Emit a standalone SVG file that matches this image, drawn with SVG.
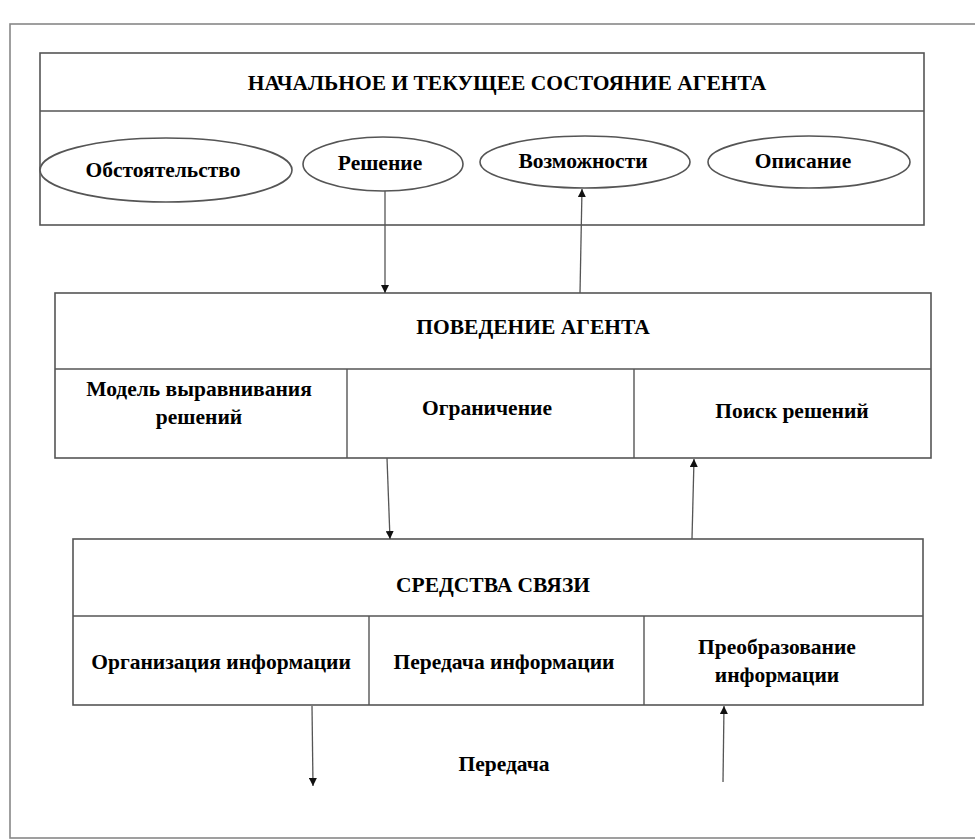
<svg xmlns="http://www.w3.org/2000/svg" width="975" height="839" viewBox="0 0 975 839">
<style>
.box{fill:#fff;stroke:#555;stroke-width:1.6}
.line{fill:none;stroke:#555;stroke-width:1.4}
.ell{fill:#fff;stroke:#555;stroke-width:1.6}
.conn{fill:none;stroke:#555;stroke-width:1.3}
.t{font-family:'Liberation Serif','Times New Roman','DejaVu Serif',serif;font-weight:bold;font-size:21.5px;fill:#000;text-anchor:middle}
</style>
<defs>
<marker id="arr" viewBox="0 0 10 10" refX="10" refY="5" markerWidth="8" markerHeight="8" markerUnits="userSpaceOnUse" orient="auto">
<path d="M0,0 L10,5 L0,10 Z" fill="#111"/>
</marker>
</defs>
<rect x="10" y="24" width="970" height="814" fill="none" stroke="#888" stroke-width="1.6"/>

<g id="state">
<rect class="box" x="40" y="53" width="884" height="172"/>
<line class="line" x1="40" y1="111" x2="924" y2="111"/>
<text class="t" x="507" y="90">НАЧАЛЬНОЕ И ТЕКУЩЕЕ СОСТОЯНИЕ АГЕНТА</text>
</g>
<g id="obstoyatelstvo">
<ellipse class="ell" cx="166" cy="170" rx="126" ry="32"/>
<text class="t" x="163" y="177">Обстоятельство</text>
</g>
<g id="reshenie">
<ellipse class="ell" cx="383" cy="164" rx="80" ry="27"/>
<text class="t" x="380" y="170">Решение</text>
</g>
<g id="vozmozhnosti">
<ellipse class="ell" cx="585" cy="162" rx="105" ry="26"/>
<text class="t" x="583" y="168">Возможности</text>
</g>
<g id="opisanie">
<ellipse class="ell" cx="809" cy="162" rx="101" ry="26"/>
<text class="t" x="803" y="168">Описание</text>
</g>

<g id="behavior">
<rect class="box" x="55" y="293" width="876" height="165"/>
<line class="line" x1="55" y1="369" x2="931" y2="369"/>
<line class="line" x1="347" y1="369" x2="347" y2="458"/>
<line class="line" x1="634" y1="369" x2="634" y2="458"/>
<text class="t" x="533" y="334">ПОВЕДЕНИЕ АГЕНТА</text>
<text class="t" x="199" y="396">Модель выравнивания</text>
<text class="t" x="199" y="424">решений</text>
<text class="t" x="487" y="415">Ограничение</text>
<text class="t" x="792" y="418">Поиск решений</text>
</g>

<g id="communication">
<rect class="box" x="73" y="539" width="850" height="166"/>
<line class="line" x1="73" y1="616" x2="923" y2="616"/>
<line class="line" x1="369" y1="616" x2="369" y2="705"/>
<line class="line" x1="644" y1="616" x2="644" y2="705"/>
<text class="t" x="493" y="592">СРЕДСТВА СВЯЗИ</text>
<text class="t" x="221" y="669">Организация информации</text>
<text class="t" x="504" y="669">Передача информации</text>
<text class="t" x="777" y="654">Преобразование</text>
<text class="t" x="777" y="682">информации</text>
</g>

<g id="transfer">
<text class="t" x="504" y="771">Передача</text>
</g>

<g id="connectors">
<line class="conn" x1="385" y1="191" x2="385" y2="293" marker-end="url(#arr)"/>
<line class="conn" x1="580" y1="293" x2="582" y2="189" marker-end="url(#arr)"/>
<line class="conn" x1="387" y1="458" x2="390" y2="539" marker-end="url(#arr)"/>
<line class="conn" x1="692" y1="539" x2="694" y2="459" marker-end="url(#arr)"/>
<line class="conn" x1="312" y1="706" x2="313" y2="786" marker-end="url(#arr)"/>
<line class="conn" x1="723" y1="782" x2="724" y2="706" marker-end="url(#arr)"/>
</g>
</svg>
